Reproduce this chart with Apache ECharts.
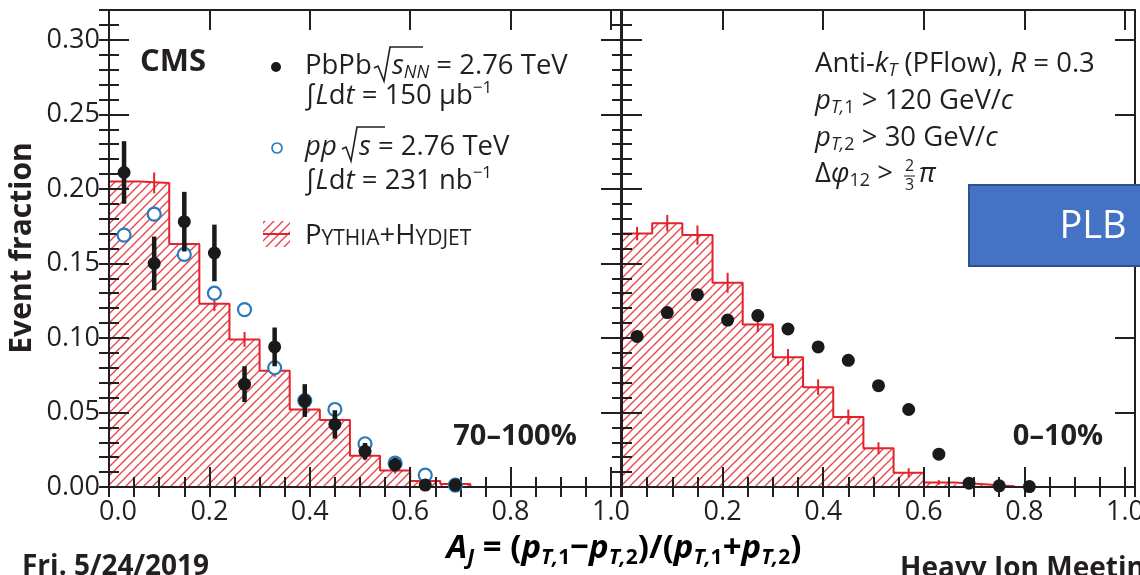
<!DOCTYPE html>
<html><head><meta charset="utf-8">
<script src="https://cdn.jsdelivr.net/npm/echarts@6/dist/echarts.min.js"></script>
<style>html,body{margin:0;padding:0;background:#fff}#c{width:1140px;height:575px}</style>
</head><body><div id="c"></div>
<script>
// ---------------- data ----------------
const binWidth = 0.06;
const centersPeriph = [0.03,0.09,0.15,0.21,0.27,0.33,0.39,0.45,0.51,0.57,0.63,0.69];
const pbpbPeriph    = [0.211,0.150,0.178,0.157,0.069,0.094,0.058,0.042,0.024,0.015,0.0013,0.0013];
const pbpbPeriphErr = [0.021,0.018,0.020,0.019,0.012,0.013,0.011,0.0095,0.0055,0.0045,0.0015,0.0015];
const ppVals        = [0.169,0.183,0.156,0.130,0.119,0.080,0.058,0.052,0.029,0.016,0.008,0.0013];
const ppErr         = [0.004,0.004,0.004,0.004,0.004,0.003,0.003,0.003,0.002,0.002,0.0015,0.001];
const mcPeriph      = [0.205,0.204,0.163,0.123,0.099,0.078,0.052,0.045,0.021,0.011,0.004,0.002];
const mcPeriphErr   = [0.007,0.007,0.006,0.005,0.005,0.004,0.004,0.003,0.003,0.002,0.0015,0.001];

const centersCentral = [0.03,0.09,0.15,0.21,0.27,0.33,0.39,0.45,0.51,0.57,0.63,0.69,0.75,0.81];
const pbpbCentral    = [0.101,0.117,0.129,0.112,0.115,0.106,0.094,0.085,0.068,0.052,0.022,0.0025,0.0008,0.0003];
const mcCentral      = [0.170,0.177,0.169,0.137,0.109,0.087,0.067,0.047,0.026,0.0096,0.0031,0.0018,0.0005];
const mcCentralErr   = [0.0045,0.0055,0.0065,0.0067,0.005,0.0056,0.0052,0.005,0.004,0.003,0.0015,0.001,0.0005];

const xTickLabelsLeft  = ['0.0','0.2','0.4','0.6','0.8','1.0'];
const xTickLabelsRight = ['','0.2','0.4','0.6','0.8','1.0'];

// ---------------- style ----------------
const FONT = '"Open Sans", "Noto Sans", sans-serif';
const INK = '#231f20';
const RED = '#e2232b';
const HATCH = '#e8414a';
const BLUE = '#2b7bba';
const BLACK = '#1a1a1a';

function makeHatch() {
  const s = 9;
  const c = document.createElement('canvas');
  c.width = s; c.height = s;
  const g = c.getContext('2d');
  g.fillStyle = '#fff'; g.fillRect(0,0,s,s);
  g.strokeStyle = HATCH; g.lineWidth = 1.3;
  for (const o of [-s, 0, s]) {
    g.beginPath(); g.moveTo(o - 1, s + 1); g.lineTo(o + s + 1, -1); g.stroke();
  }
  return c;
}
const hatch = { image: makeHatch(), repeat: 'repeat' };

const chart = echarts.init(document.getElementById('c'), null, {renderer: 'canvas'});

const tickLabelRich = {
  z: { fontSize: 27, fontFamily: FONT, color: INK, padding: [0, 0, 0, 18] },
  n: { fontSize: 27, fontFamily: FONT, color: INK }
};
function xAxes(gridIndex, labels) {
  const base = { type: 'value', gridIndex, min: 0, max: 1.02, z: 10, splitLine: {show:false} };
  const line = { show: true, onZero: false, lineStyle: { color: INK, width: 2 } };
  return [
    Object.assign({}, base, { position: 'bottom', interval: 0.2, axisLine: line,
      axisTick: { inside: true, length: 20, lineStyle: { color: INK, width: 2 } },
      axisLabel: { show: true, margin: 12, color: INK, fontSize: 27, fontFamily: FONT, rich: tickLabelRich,
        formatter: v => { const k = Math.round(v / 0.2);
          if (!(Math.abs(v/0.2 - k) < 1e-6 && k < labels.length) || !labels[k]) return '';
          return k === 0 ? '{z|' + labels[k] + '}' : '{n|' + labels[k] + '}'; } } }),
    Object.assign({}, base, { position: 'bottom', interval: 0.05, axisLine: {show:false},
      axisTick: { inside: true, length: 10, lineStyle: { color: INK, width: 2 } }, axisLabel: {show:false} }),
    Object.assign({}, base, { position: 'top', interval: 0.2, axisLine: line,
      axisTick: { inside: true, length: 20, lineStyle: { color: INK, width: 2 } }, axisLabel: {show:false} }),
    Object.assign({}, base, { position: 'top', interval: 0.05, axisLine: {show:false},
      axisTick: { inside: true, length: 10, lineStyle: { color: INK, width: 2 } }, axisLabel: {show:false} })
  ];
}
function yAxes(gridIndex, showLabels) {
  const base = { type: 'value', gridIndex, min: 0, max: 0.32, z: 10, splitLine: {show:false} };
  const line = { show: true, onZero: false, lineStyle: { color: INK, width: 2 } };
  return [
    Object.assign({}, base, { position: 'left', interval: 0.05, axisLine: line,
      axisTick: { inside: true, length: 20, lineStyle: { color: INK, width: 2 } },
      axisLabel: { show: showLabels, margin: 9, color: INK, fontSize: 27, fontFamily: FONT,
        formatter: v => Math.abs(v/0.05 - Math.round(v/0.05)) < 1e-6 ? v.toFixed(2) : '' } }),
    Object.assign({}, base, { position: 'left', interval: 0.01, axisLine: {show:false},
      axisTick: { inside: true, length: 10, lineStyle: { color: INK, width: 2 } }, axisLabel: {show:false} }),
    Object.assign({}, base, { position: 'right', interval: 0.05, axisLine: line,
      axisTick: { inside: true, length: 20, lineStyle: { color: INK, width: 2 } }, axisLabel: {show:false} }),
    Object.assign({}, base, { position: 'right', interval: 0.01, axisLine: {show:false},
      axisTick: { inside: true, length: 10, lineStyle: { color: INK, width: 2 } }, axisLabel: {show:false} })
  ];
}

function histFill(centers, vals, xi, yi) {
  return { type: 'custom', xAxisIndex: xi, yAxisIndex: yi, z: 1, silent: true,
    data: vals.map((v, i) => [centers[i] - binWidth/2, centers[i] + binWidth/2, v]),
    encode: { x: [0, 1], y: 2 },
    renderItem: (params, api) => {
      const p0 = api.coord([api.value(0), api.value(2)]);
      const p1 = api.coord([api.value(1), 0]);
      return { type: 'rect', shape: { x: p0[0], y: p0[1], width: p1[0] - p0[0], height: p1[1] - p0[1] },
        style: { fill: hatch } };
    } };
}
function histLine(centers, vals, xi, yi) {
  const pts = vals.map((v, i) => [centers[i] - binWidth/2, v]);
  pts.push([centers[vals.length - 1] + binWidth/2, 0]);
  return { type: 'line', xAxisIndex: xi, yAxisIndex: yi, z: 3, step: 'end', symbol: 'none', silent: true,
    data: pts, lineStyle: { color: RED, width: 2 } };
}
function errBars(centers, vals, errs, xi, yi, color, width, z) {
  return { type: 'custom', xAxisIndex: xi, yAxisIndex: yi, z, silent: true,
    data: vals.map((v, i) => [centers[i], v, errs[i]]),
    encode: { x: 0, y: 1 },
    renderItem: (params, api) => {
      const x = api.value(0), y = api.value(1), e = api.value(2);
      const a = api.coord([x, y + e]), b = api.coord([x, y - e]);
      return { type: 'line', shape: { x1: a[0], y1: a[1], x2: b[0], y2: b[1] }, style: { stroke: color, lineWidth: width } };
    } };
}
function dots(centers, vals, xi, yi, style, size, z) {
  return { type: 'scatter', xAxisIndex: xi, yAxisIndex: yi, z, silent: true, symbol: 'circle', symbolSize: size,
    data: vals.map((v, i) => [centers[i], v]), itemStyle: Object.assign({ opacity: 1 }, style) };
}

// ---------------- text helpers ----------------
const T = 27.5;
const richBase = {
  t:   { fontSize: T, fontFamily: FONT, color: INK, lineHeight: 32 },
  i:   { fontSize: T, fontFamily: FONT, color: INK, fontStyle: 'italic', lineHeight: 32 },
  sub: { fontSize: 18, fontFamily: FONT, color: INK, fontStyle: 'italic', verticalAlign: 'bottom', lineHeight: 16 },
  subr:{ fontSize: 18, fontFamily: FONT, color: INK, verticalAlign: 'bottom', lineHeight: 16 },
  sup: { fontSize: 17, fontFamily: FONT, color: INK, verticalAlign: 'top', lineHeight: 18 },
  b:   { fontSize: T, fontFamily: FONT, color: INK, verticalAlign: 'bottom', lineHeight: 28 },
  s:   { fontSize: 21, fontFamily: FONT, color: INK, verticalAlign: 'bottom', lineHeight: 23 }
};
function rtext(x, y, text, extra) {
  return Object.assign({ type: 'text', x, y, z: 50, silent: true,
    style: { text, rich: richBase, fontSize: T, fontFamily: FONT, fill: INK, verticalAlign: 'middle', align: 'left' } }, extra || {});
}
function ptext(x, y, text, size, weight, opts) {
  return { type: 'text', x, y, z: 50, silent: true, rotation: (opts && opts.rotation) || 0,
    style: Object.assign({ text, fontSize: size, fontWeight: weight, fontFamily: FONT, fill: INK,
      verticalAlign: 'middle', align: 'left' }, (opts && opts.style) || {}) };
}
function radical(pts) {
  return { type: 'polyline', z: 50, silent: true, shape: { points: pts },
    style: { stroke: INK, lineWidth: 1.6, fill: null, lineJoin: 'miter' } };
}

const xtRich = {
  a:  { fontSize: 33, fontWeight: 'bold', fontStyle: 'italic', fontFamily: FONT, color: INK, lineHeight: 40 },
  n:  { fontSize: 33, fontWeight: 'bold', fontFamily: FONT, color: INK, lineHeight: 40 },
  sb: { fontSize: 21, fontWeight: 'bold', fontStyle: 'italic', fontFamily: FONT, color: INK, verticalAlign: 'bottom', lineHeight: 20 },
  sn: { fontSize: 21, fontWeight: 'bold', fontFamily: FONT, color: INK, verticalAlign: 'bottom', lineHeight: 20 }
};

const graphics = [
  // CMS
  ptext(140, 62, 'CMS', 31, 'bold'),
  // legend markers
  { type: 'circle', z: 50, shape: { cx: 276, cy: 67, r: 5 }, style: { fill: BLACK } },
  { type: 'circle', z: 50, shape: { cx: 277, cy: 148, r: 5 }, style: { fill: '#fff', stroke: BLUE, lineWidth: 1.7 } },
  { type: 'rect', z: 50, shape: { x: 263, y: 221, width: 27, height: 26 }, style: { fill: hatch } },
  { type: 'line', z: 51, shape: { x1: 263, y1: 234, x2: 290, y2: 234 }, style: { stroke: RED, lineWidth: 2 } },
  // legend text
  rtext(305, 66, '{t|PbPb}'),
  radical([[374, 68], [378, 66], [384, 81], [390, 47], [423, 47]]),
  rtext(392, 66, '{i|s}{sub|NN}{t| = 2.76 TeV}'),
  rtext(305, 96, '{t|∫}{i|L}{t|d}{i|t}{t| = 150 μb}{sup|−1}'),
  rtext(305, 147, '{i|pp}'),
  radical([[342, 149], [346, 147], [351, 161], [357, 127], [385, 127]]),
  rtext(359, 147, '{i|s}{t| = 2.76 TeV}'),
  rtext(305, 181, '{t|∫}{i|L}{t|d}{i|t}{t| = 231 nb}{sup|−1}'),
  rtext(305, 236, '{b|P}{s|YTHIA}{b|+H}{s|YDJET}'),
  // right panel annotation
  rtext(815, 64, '{t|Anti-}{i|k}{sub|T}{t| (PFlow), }{i|R}{t| = 0.3}'),
  rtext(815, 101, '{i|p}{sub|T,}{subr|1}{t| > 120 GeV/}{i|c}'),
  rtext(815, 138, '{i|p}{sub|T,}{subr|2}{t| > 30 GeV/}{i|c}'),
  rtext(815, 174, '{t|Δ}{i|φ}{subr|12}{t| > }'),
  ptext(905, 166, '2', 16, 'normal'),
  ptext(905, 185, '3', 16, 'normal'),
  { type: 'line', z: 50, shape: { x1: 904, y1: 176, x2: 915, y2: 176 }, style: { stroke: INK, lineWidth: 1 } },
  ptext(919, 174, 'π', T, 'normal', { style: { fontStyle: 'italic' } }),
  // centrality labels
  ptext(515, 437, '70–100%', 29, 'bold', { style: { align: 'center' } }),
  ptext(1058, 437, '0–10%', 29, 'bold', { style: { align: 'center' } }),
  // axis titles
  ptext(22, 248, 'Event fraction', 30, 'bold', { rotation: Math.PI / 2, style: { align: 'center' } }),
  { type: 'text', x: 624, y: 549, z: 50, silent: true,
    style: { text: '{a|A}{sb|J}{n| = (}{a|p}{sb|T,}{sn|1}{n|−}{a|p}{sb|T,}{sn|2}{n|)/(}{a|p}{sb|T,}{sn|1}{n|+}{a|p}{sb|T,}{sn|2}{n|)}',
      rich: xtRich, align: 'center', verticalAlign: 'middle', fontFamily: FONT } },
  // footer
  ptext(22, 567, 'Fri. 5/24/2019', 28, 'bold'),
  ptext(900, 569, 'Heavy Ion Meeting', 28, 'bold'),
  // PLB box
  { type: 'rect', z: 60, shape: { x: 969, y: 185, width: 190, height: 81 }, style: { fill: '#4472c4', stroke: '#2f528f', lineWidth: 2 } },
  { type: 'text', x: 1093, y: 227, z: 61, silent: true, style: { text: 'PLB', fontSize: 38, fontFamily: FONT, fill: '#fff', align: 'center', verticalAlign: 'middle' } }
];

const option = {
  backgroundColor: '#fff',
  animation: false,
  grid: [
    { left: 109, top: 10, width: 512, height: 477, containLabel: false, outerBoundsMode: 'none' },
    { left: 622, top: 10, width: 513, height: 477, containLabel: false, outerBoundsMode: 'none' }
  ],
  xAxis: [].concat(xAxes(0, xTickLabelsLeft), xAxes(1, xTickLabelsRight)),
  yAxis: [].concat(yAxes(0, true), yAxes(1, false)),
  series: [
    histFill(centersPeriph, mcPeriph, 0, 0),
    histLine(centersPeriph, mcPeriph, 0, 0),
    errBars(centersPeriph, mcPeriph, mcPeriphErr, 0, 0, RED, 2, 4),
    errBars(centersPeriph, ppVals, ppErr, 0, 0, BLUE, 1.8, 21),
    dots(centersPeriph, ppVals, 0, 0, { color: '#fff', borderColor: BLUE, borderWidth: 2.2 }, 13, 22),
    errBars(centersPeriph, pbpbPeriph, pbpbPeriphErr, 0, 0, BLACK, 4.5, 23),
    dots(centersPeriph, pbpbPeriph, 0, 0, { color: BLACK }, 13, 24),

    histFill(centersCentral, mcCentral, 4, 4),
    histLine(centersCentral, mcCentral, 4, 4),
    errBars(centersCentral, mcCentral, mcCentralErr, 4, 4, RED, 2, 4),
    dots(centersCentral, pbpbCentral, 4, 4, { color: BLACK }, 13, 24)
  ],
  graphic: graphics
};
chart.setOption(option);
</script></body></html>
